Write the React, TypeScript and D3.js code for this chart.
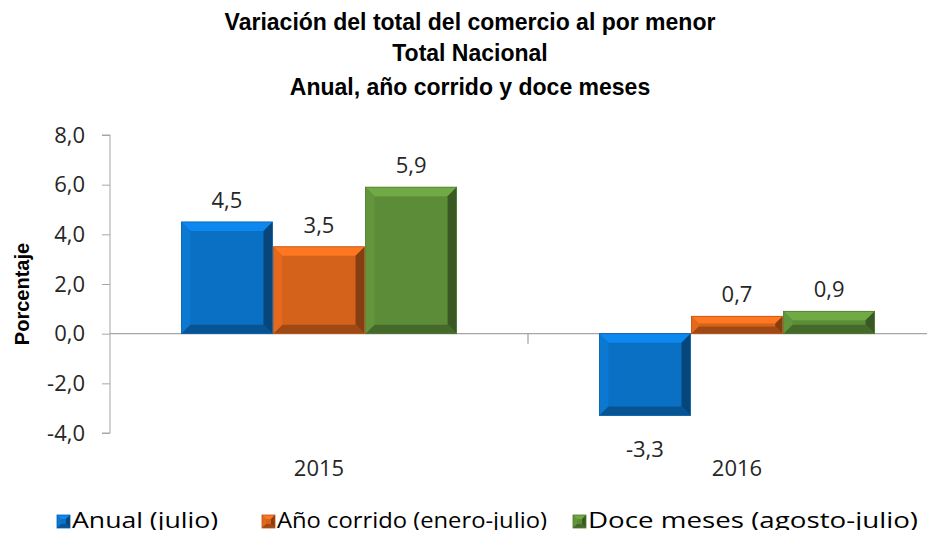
import React, { useEffect, useRef } from 'react';
import * as d3 from 'd3';

const categories = ['2015', '2016'];
const seriesNames = ['Anual (julio)', 'Año corrido (enero-julio)', 'Doce meses (agosto-julio)'];
const anual = [4.5, -3.3];
const anoCorrido = [3.5, 0.7];
const doceMeses = [5.9, 0.9];
const yTicks = [-4, -2, 0, 2, 4, 6, 8];
const titleLines = [
  'Variación del total del comercio al por menor',
  'Total Nacional',
  'Anual, año corrido y doce meses',
];
const colors = ['#0A70C4', '#D4621A', '#5C8C38'];

const W = 935;
const H = 538;

const fmt = (v: number) => d3.format('.1f')(v).replace('.', ',').replace('−', '-');

const App: React.FC = () => {
  const svgRef = useRef<SVGSVGElement>(null);

  useEffect(() => {
    if (!svgRef.current) return;
    const svg = d3.select(svgRef.current);
    svg.selectAll('*').remove();

    const series = [anual, anoCorrido, doceMeses];
    const margin = { left: 110, top: 135, bottom: 433 };

    const x0 = d3.scaleBand().domain(categories).range([margin.left, 946]).paddingInner(0).paddingOuter(0);
    const x1 = d3.scaleBand()
      .domain(seriesNames)
      .range([0, x0.bandwidth()])
      .paddingOuter(0.77)
      .paddingInner(0.0);
    const y = d3.scaleLinear().domain([-4, 8]).range([margin.bottom, margin.top]);

    // top frame line
    svg.append('line')
      .attr('x1', 0).attr('x2', W).attr('y1', 3).attr('y2', 3)
      .attr('stroke', '#8c8c8c').attr('stroke-width', 2);

    // title
    svg.append('g').selectAll('text')
      .data(titleLines)
      .enter()
      .append('text')
      .attr('x', 470)
      .attr('y', (_d, i) => [30, 61, 95][i])
      .attr('text-anchor', 'middle')
      .style('font-family', '"Liberation Sans", Arial, sans-serif')
      .style('font-weight', '700')
      .style('font-size', '23px')
      .attr('fill', '#000')
      .text(d => d);

    // y axis
    const yAxis = svg.append('g')
      .attr('transform', `translate(${margin.left},0)`)
      .call(d3.axisLeft(y).tickValues(yTicks).tickSize(8).tickPadding(17)
        .tickFormat(d => fmt(d as number)));
    yAxis.select('.domain').attr('stroke', '#a6a6a6').attr('d', `M-8,${y(8)}H0V${y(-4)}H-8`);
    yAxis.selectAll('.tick line').attr('stroke', '#a6a6a6');
    yAxis.selectAll('text')
      .style('font-family', '"Open Sans", sans-serif')
      .style('font-size', '22px')
      .attr('fill', '#262626');

    // y label
    svg.append('text')
      .attr('transform', `translate(29,294) rotate(-90)`)
      .attr('text-anchor', 'middle')
      .style('font-family', '"Liberation Sans", Arial, sans-serif')
      .style('font-weight', '700')
      .style('font-size', '20px')
      .attr('fill', '#000')
      .text('Porcentaje');

    // zero line and category ticks
    svg.append('line')
      .attr('x1', margin.left).attr('x2', W).attr('y1', y(0)).attr('y2', y(0))
      .attr('stroke', '#a6a6a6').attr('stroke-width', 1.3);
    svg.append('line')
      .attr('x1', x0('2016')!).attr('x2', x0('2016')!)
      .attr('y1', y(0)).attr('y2', y(0) + 10)
      .attr('stroke', '#a6a6a6').attr('stroke-width', 1.3);

    // category labels
    svg.selectAll('.cat')
      .data(categories)
      .enter()
      .append('text')
      .attr('class', 'cat')
      .attr('x', d => x0(d)! + x0.bandwidth() / 2)
      .attr('y', 476)
      .attr('text-anchor', 'middle')
      .style('font-family', '"Open Sans", sans-serif')
      .style('font-size', '22px')
      .attr('fill', '#262626')
      .text(d => d);

    // bars with bevel
    const bevel = (g: d3.Selection<SVGGElement, unknown, null, undefined>, bx: number, by: number, bw: number, bh: number, color: string, bmax = 9) => {
      const c = d3.color(color)!;
      const b = Math.min(bmax, bh / 2.4, bw / 3);
      g.append('rect').attr('x', bx).attr('y', by).attr('width', bw).attr('height', bh).attr('fill', color);
      const pts = (p: number[][]) => p.map(q => q.join(',')).join(' ');
      // top
      g.append('polygon')
        .attr('points', pts([[bx, by], [bx + bw, by], [bx + bw - b, by + b], [bx + b, by + b]]))
        .attr('fill', c.brighter(0.55).toString());
      // left
      g.append('polygon')
        .attr('points', pts([[bx, by], [bx + b, by + b], [bx + b, by + bh - b], [bx, by + bh]]))
        .attr('fill', c.brighter(0.2).toString());
      // right
      g.append('polygon')
        .attr('points', pts([[bx + bw, by], [bx + bw, by + bh], [bx + bw - b, by + bh - b], [bx + bw - b, by + b]]))
        .attr('fill', c.darker(1.3).toString());
      // bottom
      g.append('polygon')
        .attr('points', pts([[bx, by + bh], [bx + b, by + bh - b], [bx + bw - b, by + bh - b], [bx + bw, by + bh]]))
        .attr('fill', c.darker(0.8).toString());
      g.append('rect').attr('x', bx).attr('y', by).attr('width', bw).attr('height', bh)
        .attr('fill', 'none').attr('stroke', c.darker(0.4).toString()).attr('stroke-width', 0.8);
    };

    const barsG = svg.append('g');
    categories.forEach((cat, ci) => {
      series.forEach((vals, si) => {
        const v = vals[ci];
        const bx = x0(cat)! + x1(seriesNames[si])!;
        const bw = x1.bandwidth();
        const top = y(Math.max(0, v));
        const bot = y(Math.min(0, v));
        const g = barsG.append('g');
        bevel(g, bx + 0.5, top, bw - 1, bot - top, colors[si]);
        g.append('text')
          .attr('x', bx + bw / 2)
          .attr('y', v >= 0 ? top - 14 : bot + 41)
          .attr('text-anchor', 'middle')
          .style('font-family', '"Open Sans", sans-serif')
          .style('font-size', '22px')
          .attr('fill', '#262626')
          .text(fmt(v));
      });
    });

    // legend
    const legendX = [57, 262, 573];
    const legendW = [146, 270, 330];
    const legend = svg.append('g');
    seriesNames.forEach((name, i) => {
      const g = legend.append('g').attr('transform', `translate(${legendX[i]},515)`);
      bevel(g, 0, 0, 13, 13, colors[i], 4);
      g.append('text')
        .attr('x', 15)
        .attr('y', 13)
        .attr('textLength', legendW[i])
        .attr('lengthAdjust', 'spacingAndGlyphs')
        .style('font-family', '"Open Sans", sans-serif')
        .style('font-size', '22px')
        .attr('fill', '#000')
        .text(name);
    });
  }, []);

  return (
    <div style={{ width: W, height: H, margin: -8, overflow: 'hidden', background: '#fff' }}>
      <svg ref={svgRef} width={W} height={H} style={{ display: 'block' }}></svg>
    </div>
  );
};

export default App;
